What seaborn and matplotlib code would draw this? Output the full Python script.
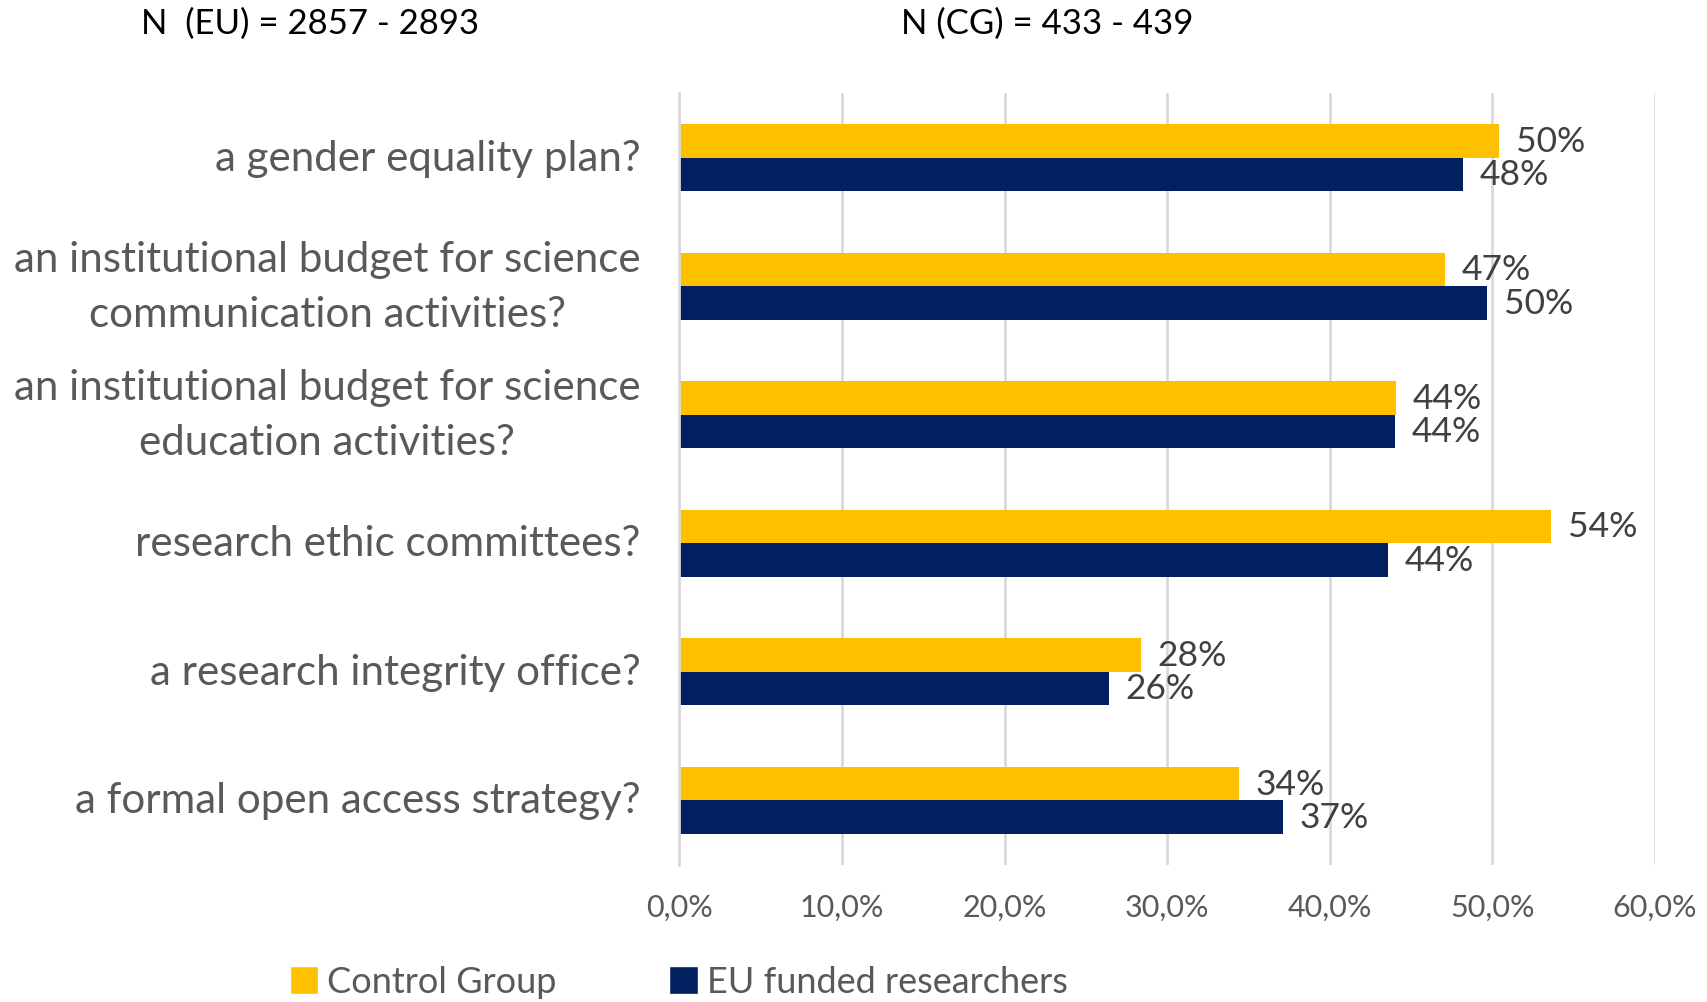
import matplotlib
matplotlib.use("Agg")
import matplotlib.pyplot as plt
import seaborn as sns
import pandas as pd
from matplotlib.ticker import FuncFormatter, MultipleLocator
from matplotlib.patches import Patch

# dados
categorias = [
    "a gender equality plan?",
    "an institutional budget for science\ncommunication activities?",
    "an institutional budget for science\neducation activities?",
    "research ethic committees?",
    "a research integrity office?",
    "a formal open access strategy?",
]
grupos = ["Control Group", "EU funded researchers"]
control_group = [50.4, 47.1, 44.1, 53.6, 28.4, 34.4]
eu_funded = [48.2, 49.7, 44.0, 43.6, 26.4, 37.1]
n_textos = ["N  (EU) = 2857 - 2893", "N (CG) = 433 - 439"]
cores = {"Control Group": "#FFC000", "EU funded researchers": "#002060"}

df = pd.DataFrame({
    "Categoria": categorias * 2,
    "Grupo": [grupos[0]] * len(categorias) + [grupos[1]] * len(categorias),
    "Valor": control_group + eu_funded,
})

sns.set_style("white")
plt.rcParams["font.family"] = ["Lato", "DejaVu Sans"]

fig = plt.figure(figsize=(17.07, 10.03), dpi=100)
ax = fig.add_axes([0.398, 0.137, 0.5715, 0.769])

sns.barplot(data=df, y="Categoria", x="Valor", hue="Grupo", hue_order=grupos,
            palette=cores, saturation=1, orient="h", width=0.52, ax=ax,
            legend=False, errorbar=None, linewidth=0)

# rotulos de dados
for cont in ax.containers:
    vals = cont.datavalues
    ax.bar_label(cont, labels=[f"{round(v)}%" for v in vals], padding=12,
                 fontsize=25.5, color="#404040")

ax.set_xlim(0, 60)
ax.xaxis.set_major_locator(MultipleLocator(10))
ax.xaxis.set_major_formatter(FuncFormatter(lambda v, p: f"{v:.1f}%".replace(".", ",")))
ax.grid(axis="x", color="#D9D9D9", linewidth=2)
ax.set_axisbelow(True)
for s in ["top", "right", "bottom"]:
    ax.spines[s].set_visible(False)
ax.spines["left"].set_color("#D9D9D9")
ax.spines["left"].set_linewidth(2)
ax.tick_params(axis="x", length=0, labelsize=22, labelcolor="#595959", pad=20)
ax.tick_params(axis="y", length=0, labelsize=30.3, labelcolor="#595959", pad=28)
for t in ax.get_yticklabels():
    t.set_horizontalalignment("right")
    t.set_verticalalignment("center")
    t.set_multialignment("center")
    t.set_linespacing(1.55)
ax.set_xlabel("")
ax.set_ylabel("")

# textos do topo
fig.text(141 / 1707, 1 - 24 / 1003, n_textos[0], fontsize=25, color="black", va="center")
fig.text(901 / 1707, 1 - 24 / 1003, n_textos[1], fontsize=25, color="black", va="center")

# legenda
handles = [Patch(facecolor=cores[g], label=g) for g in grupos]
fig.legend(handles=handles, loc="center left", bbox_to_anchor=(257 / 1707, 1 - 983 / 1003),
           ncol=2, frameon=False, fontsize=26, labelcolor="#595959",
           handlelength=0.8, handleheight=0.8, handletextpad=0.25, columnspacing=3.1)

plt.savefig("out.png", dpi=100)
